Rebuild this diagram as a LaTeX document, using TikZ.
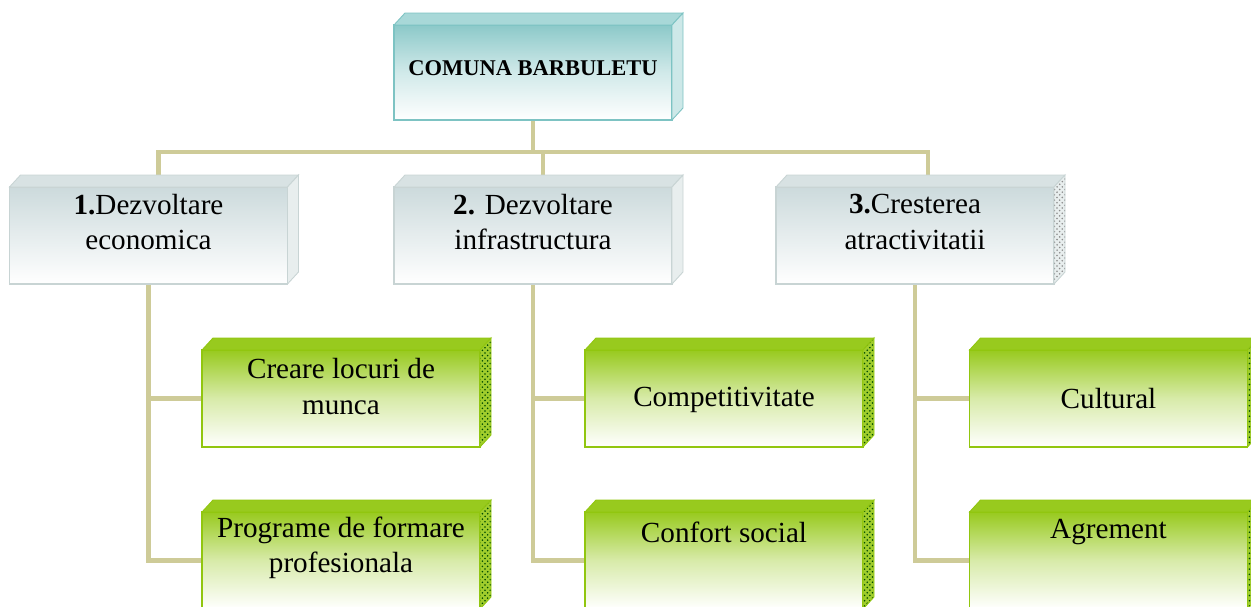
\documentclass[tikz,border=0pt]{standalone}
\usepackage{fontspec}
\setmainfont{Liberation Serif}
\usepackage{xcolor}
\usepackage{tikz}
\usetikzlibrary{positioning,calc,backgrounds,patterns}

\definecolor{tealedge}{RGB}{125,195,195}
\definecolor{tealtop}{RGB}{140,201,201}
\definecolor{tealface}{RGB}{168,216,216}
\definecolor{tealside}{RGB}{205,232,232}
\definecolor{greyedge}{RGB}{200,212,212}
\definecolor{greytop}{RGB}{204,218,220}
\definecolor{greyface}{RGB}{216,226,227}
\definecolor{greyside}{RGB}{232,238,238}
\definecolor{greenedge}{RGB}{145,198,15}
\definecolor{greentop}{RGB}{152,202,30}
\definecolor{greenside}{RGB}{160,205,45}
\definecolor{linkcol}{RGB}{206,203,152}

\begin{document}
\begin{tikzpicture}[
    every node/.style={font=\fontsize{16.6}{20}\selectfont, align=center},
    box/.style={minimum width=5.56cm, minimum height=1.94cm, inner sep=0pt, outer sep=0pt, line width=0.6pt},
    headbox/.style={box, minimum height=1.9cm, draw=tealedge, top color=tealtop, bottom color=white, middle color=tealtop!40!white},
    axisbox/.style={box, draw=greyedge, top color=greytop, bottom color=white, middle color=greytop!50!white},
    measbox/.style={box, draw=greenedge, top color=greentop, bottom color=white, middle color=greentop!38!white},
    headlid/.style={fill=tealface, draw=tealedge, line width=0.5pt},
    headside/.style={fill=tealside, draw=tealedge, line width=0.5pt},
    axislid/.style={fill=greyface, draw=greyedge, line width=0.5pt},
    axisside/.style={fill=greyside, draw=greyedge, line width=0.5pt},
    axisdots/.style={preaction={fill=greyside}, pattern=crosshatch dots, pattern color=black!45, draw=greyedge, line width=0.5pt},
    measlid/.style={fill=greentop, draw=greenedge, line width=0.5pt},
    measdots/.style={preaction={fill=greenside}, pattern=crosshatch dots, pattern color=green!30!black, draw=greenedge, line width=0.5pt},
    txt/.style={inner sep=0pt},
    link/.style={draw=linkcol, line width=2.8pt}
]
    \useasboundingbox (0,0) rectangle (25.02,-12.12);
    \clip (0,0) rectangle (25.02,-12.12);

    % Top box
    \node[headbox] (head) at (10.66,-1.45) {};
    \node[txt, font=\fontsize{12.8}{15}\selectfont\bfseries] (headtxt) at ($(head)+(0,0.08)$) {COMUNA BARBULETU};

    % Axes
    \node[axisbox] (ax1) at (2.97,-4.71) {};
    \node[axisbox] (ax2) at (10.66,-4.71) {};
    \node[axisbox] (ax3) at (18.30,-4.71) {};
    \node[txt] (ax1txt) at ($(ax1)+(0,0.27)$) {\textbf{1.}Dezvoltare\\economica};
    \node[txt] (ax2txt) at ($(ax2)+(0,0.27)$) {\textbf{2.} Dezvoltare\\infrastructura};
    \node[txt] (ax3txt) at ($(ax3)+(0,0.27)$) {\textbf{3.}Cresterea\\atractivitatii};

    % Measures
    \node[measbox] (m11) at (6.82,-7.97) {};
    \node[measbox] (m12) at (6.82,-11.21) {};
    \node[measbox] (m21) at (14.48,-7.97) {};
    \node[measbox] (m22) at (14.48,-11.21) {};
    \node[measbox] (m31) at (22.17,-7.97) {};
    \node[measbox] (m32) at (22.17,-11.21) {};
    \node[txt] (m11txt) at ($(m11)+(0,0.24)$) {Creare locuri de\\munca};
    \node[txt] (m12txt) at ($(m12)+(0,0.26)$) {Programe de formare\\profesionala};
    \node[txt] (m21txt) at ($(m21)+(0,-0.03)$) {Competitivitate};
    \node[txt] (m22txt) at ($(m22)+(0,0.57)$) {Confort social};
    \node[txt] (m31txt) at ($(m31)+(0,0)$) {Cultural};
    \node[txt] (m32txt) at ($(m32)+(0,0.57)$) {Agrement};

    % 3d faces
    \foreach \n/\lid/\side in {head/headlid/headside, ax1/axislid/axisside, ax2/axislid/axisside, ax3/axislid/axisdots,
        m11/measlid/measdots, m12/measlid/measdots, m21/measlid/measdots, m22/measlid/measdots, m31/measlid/measdots, m32/measlid/measdots}{
        \path[\lid] (\n.north west) -- ++(0.22,0.24) -- ($(\n.north east)+(0.22,0.24)$) -- (\n.north east) -- cycle;
        \path[\side] (\n.north east) -- ++(0.22,0.24) -- ($(\n.south east)+(0.22,0.24)$) -- (\n.south east) -- cycle;
    }

    % Connectors
    \begin{scope}[on background layer]
        \coordinate (bus) at ($(head.south)+(0,-0.64)$);
        \draw[link] (head.south) -- (bus);
        \draw[link] (bus) -| ([xshift=0.2cm]ax1.north);
        \draw[link] (bus) -| ([xshift=0.2cm]ax2.north);
        \draw[link] (bus) -| ([xshift=0.26cm]ax3.north);

        \draw[link] (ax1.south) |- (m11.west);
        \draw[link] (ax1.south) |- (m12.west);
        \draw[link] (ax2.south) |- (m21.west);
        \draw[link] (ax2.south) |- (m22.west);
        \draw[link] (ax3.south) |- (m31.west);
        \draw[link] (ax3.south) |- (m32.west);
    \end{scope}

\end{tikzpicture}
\end{document}
